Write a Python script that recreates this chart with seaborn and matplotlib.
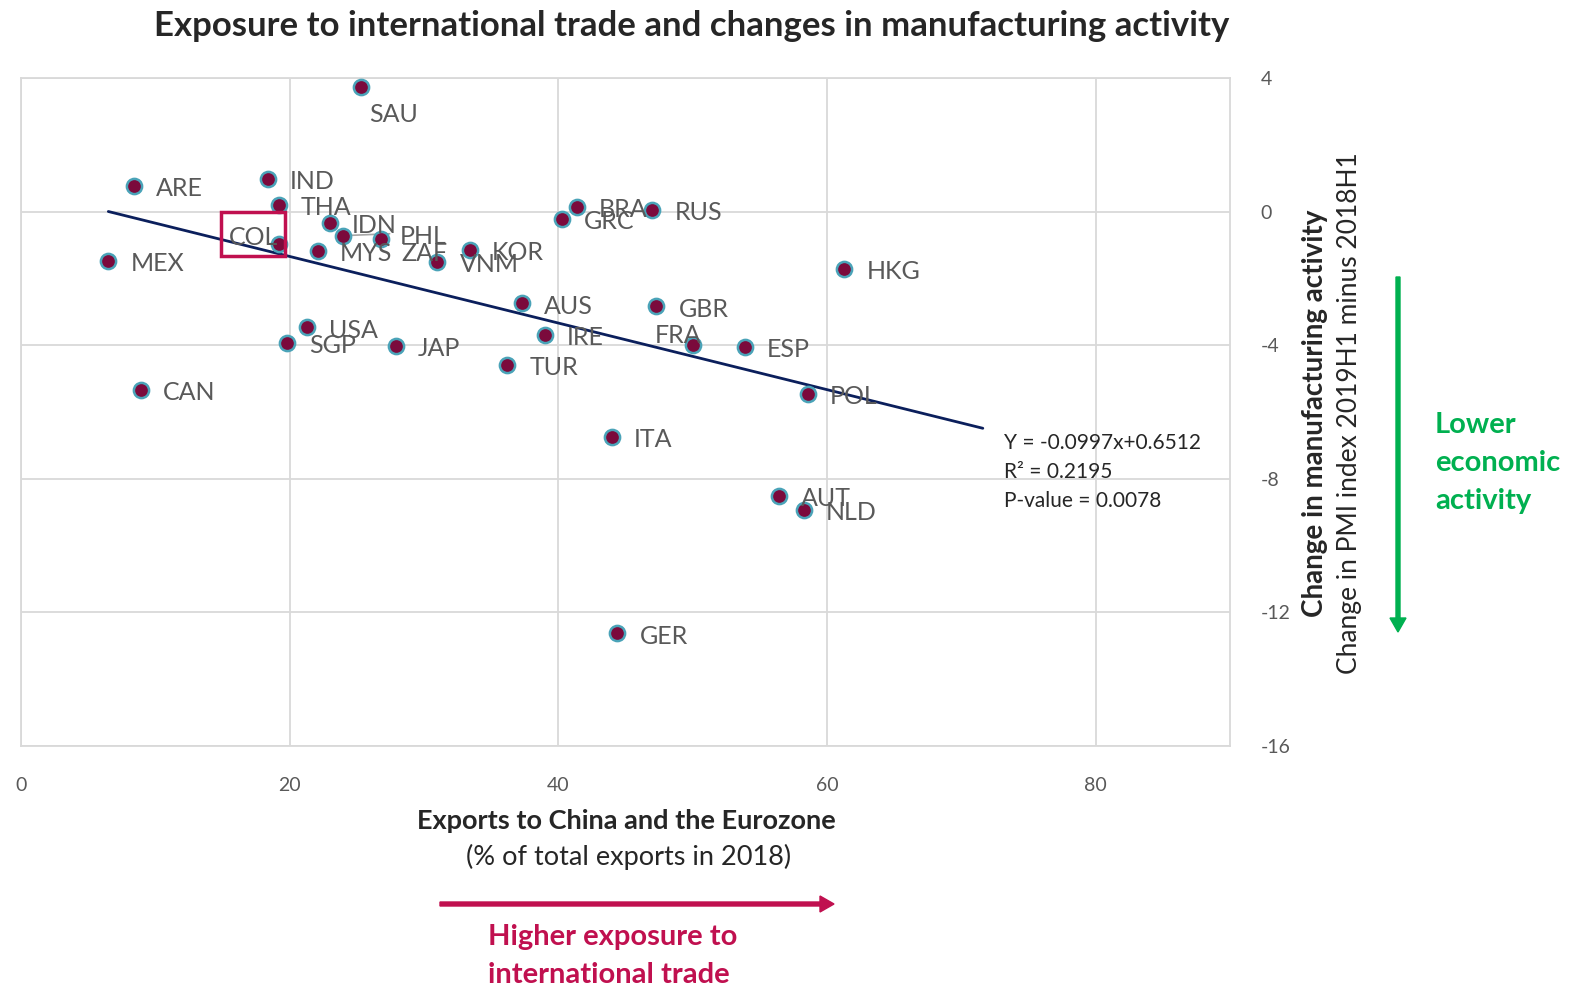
import matplotlib
matplotlib.use("Agg")
import matplotlib.pyplot as plt
import seaborn as sns
import pandas as pd
import numpy as np
from matplotlib.patches import Rectangle, FancyArrow

# ---------------- data ----------------
countries = ["SAU", "ARE", "IND", "THA", "COL", "MEX", "IDN", "MYS", "ZAF", "PHL",
             "VNM", "KOR", "GRC", "BRA", "RUS", "AUS", "IRE", "GBR", "FRA", "TUR",
             "JAP", "SGP", "USA", "ESP", "HKG", "POL", "CAN", "ITA", "AUT", "NLD", "GER"]
exports_share = [25.3, 8.4, 18.4, 19.2, 19.2, 6.5, 23.0, 22.1, 24.0, 26.8,
                 31.0, 33.4, 40.3, 41.4, 47.0, 37.3, 39.0, 47.3, 50.0, 36.2,
                 27.9, 19.8, 21.3, 53.9, 61.3, 58.6, 8.9, 44.0, 56.4, 58.3, 44.4]
pmi_change = [3.74, 0.78, 0.99, 0.21, -0.96, -1.47, -0.33, -1.17, -0.72, -0.81,
              -1.50, -1.14, -0.21, 0.15, 0.06, -2.75, -3.68, -2.84, -3.98, -4.58,
              -4.01, -3.92, -3.47, -4.04, -1.71, -5.45, -5.33, -6.74, -8.50, -8.92, -12.63]
trend_slope = -0.0997
trend_intercept = 0.6512
trend_r2 = 0.2195
trend_pvalue = 0.0078
x_ticks = [0, 20, 40, 60, 80]
y_ticks = [4, 0, -4, -8, -12, -16]

df = pd.DataFrame({"country": countries, "x": exports_share, "y": pmi_change})

# ---------------- style ----------------
sns.set_style("white")
plt.rcParams["font.family"] = ["Lato", "DejaVu Sans"]
plt.rcParams["axes.unicode_minus"] = False

W, H = 1571, 985
fig = plt.figure(figsize=(W / 100, H / 100), dpi=100)
ax = fig.add_axes([21 / W, 1 - 746 / H, (1230 - 21) / W, (746 - 78) / H])

grey_txt = "#595959"
grid_c = "#D9D9D9"
dot_c = "#7B0A3C"
edge_c = "#4AA3B8"
crimson = "#C0104F"
green = "#00B050"
navy = "#0B1F5C"

sns.scatterplot(data=df, x="x", y="y", ax=ax, s=120, color=dot_c,
                edgecolor=edge_c, linewidth=1.8, zorder=5, legend=False)

# trendline from the stated coefficients
tx = np.array([min(exports_share), max(exports_share) + 10.3])
ax.plot(tx, trend_slope * tx + trend_intercept, color=navy, lw=2, zorder=4)

ax.set_xlim(0, 90)
ax.set_ylim(-16, 4)
ax.set_xticks(x_ticks)
ax.set_yticks(y_ticks)
ax.grid(True, color=grid_c, lw=1.3)
ax.set_axisbelow(True)
for s in ax.spines.values():
    s.set_color(grid_c)
    s.set_linewidth(1.3)
ax.yaxis.tick_right()
ax.tick_params(axis="both", length=0, labelsize=14, labelcolor=grey_txt)
ax.tick_params(axis="x", pad=22)
ax.tick_params(axis="y", pad=22)
ax.set_xlabel("")
ax.set_ylabel("")

# labels (offsets in pixels)
default_off = (22, -3)
special_off = {"SAU": (8, -28), "COL": (-50, 6), "FRA": (-38, 9),
               "ZAF": (58, -18), "PHL": (19, 2)}
for c, xv, yv in zip(countries, exports_share, pmi_change):
    off = special_off.get(c, default_off)
    ax.annotate(c, (xv, yv), xytext=off, textcoords="offset pixels",
                ha="left", va="center", fontsize=18, color=grey_txt, zorder=6)

# leader line for ZAF label
zx, zy = exports_share[countries.index("ZAF")], pmi_change[countries.index("ZAF")]
ax.annotate("", (zx, zy), xytext=(49, 2), textcoords="offset pixels",
            arrowprops=dict(arrowstyle="-", color="#A6A6A6", lw=1.2), zorder=4)

# COL highlight box
ax.add_patch(Rectangle((14.87, -1.32), 4.76, 1.32, fill=False,
                       edgecolor=crimson, lw=2.5, zorder=7))

# regression stats
ax.text(73.2, -6.92, f"Y = {trend_slope}x+{trend_intercept}", fontsize=15, color="#262626", va="center")
ax.text(73.2, -7.79, f"R² = {trend_r2}", fontsize=15, color="#262626", va="center")
ax.text(73.2, -8.65, f"P-value = {trend_pvalue}", fontsize=15, color="#262626", va="center")

# title
fig.text(692 / W, 1 - 26 / H, "Exposure to international trade and changes in manufacturing activity",
         ha="center", va="center", fontsize=25, fontweight="bold", color="#262626")

# x-axis titles
fig.text(626 / W, 1 - 821 / H, "Exports to China and the Eurozone", ha="center", va="center",
         fontsize=19.5, fontweight="bold", color="#262626")
fig.text(629 / W, 1 - 857 / H, "(% of total exports in 2018)", ha="center", va="center",
         fontsize=19.5, color="#262626")

# y-axis titles (right)
fig.text(1315 / W, 1 - 413 / H, "Change in manufacturing activity", ha="center", va="center",
         rotation=90, fontsize=20, fontweight="bold", color="#262626")
fig.text(1350 / W, 1 - 413 / H, "Change in PMI index 2019H1 minus 2018H1", ha="center", va="center",
         rotation=90, fontsize=19, color="#262626")

# arrows
fig.add_artist(FancyArrow(440 / W, 1 - 904 / H, (820 - 440) / W, 0, width=4 / H,
                          head_width=16 / H, head_length=14 / W, length_includes_head=False,
                          color=crimson, transform=fig.transFigure))
fig.text(488 / W, 1 - 937 / H, "Higher exposure to", ha="left", va="center",
         fontsize=21, fontweight="bold", color=crimson)
fig.text(488 / W, 1 - 975 / H, "international trade", ha="left", va="center",
         fontsize=21, fontweight="bold", color=crimson)

fig.add_artist(FancyArrow(1398 / W, 1 - 277 / H, 0, -(618 - 277) / H, width=4 / W,
                          head_width=16 / W, head_length=14 / H, length_includes_head=False,
                          color=green, transform=fig.transFigure))
for i, t in enumerate(["Lower", "economic", "activity"]):
    fig.text(1435 / W, 1 - (425 + 38 * i) / H, t, ha="left", va="center",
             fontsize=21, fontweight="bold", color=green)

fig.savefig("out.png", dpi=100)
